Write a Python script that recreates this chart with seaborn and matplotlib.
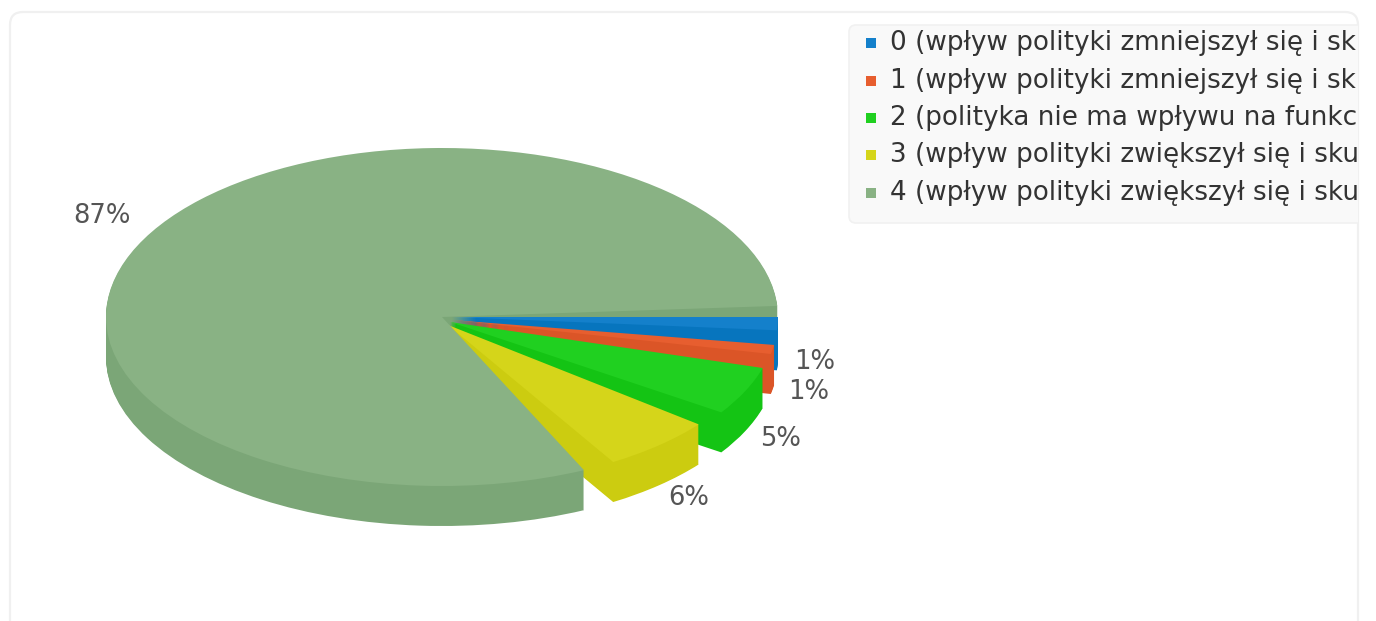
import matplotlib
matplotlib.use("Agg")
import matplotlib.pyplot as plt
import seaborn as sns
from matplotlib.patches import FancyBboxPatch

# legend text as it is visible, the card cuts it off on the right
legend_text = [
    "0 (wpływ polityki zmniejszył się i sk",
    "1 (wpływ polityki zmniejszył się i sk",
    "2 (polityka nie ma wpływu na funkc",
    "3 (wpływ polityki zwiększył się i sku",
    "4 (wpływ polityki zwiększył się i sku",
]
pct_labels = ["1%", "1%", "5%", "6%", "87%"]
shares = [1.3, 0.9, 4.8, 5.7, 80.9]

top_colors = ["#1480cb", "#e75e2f", "#20d020", "#d5d51a", "#89b284"]
side_colors = ["#0775be", "#db5527", "#14c414", "#cccc10", "#7ba677"]

# where each slice starts (degrees clockwise from east), apex and radii in pixels
start_deg = [0, 8.8, 16.4, 38.4, 65]
apex_px = [(452, 317), (452, 320), (450, 322), (448, 325), (442, 317)]
radii_px = [(326, 163), (326, 163), (326, 163), (320, 160), (336, 169)]
depth_px = 40

label_px = [(815, 362), (809, 392), (780, 439), (689, 498), (102, 216)]
legend_y = [43, 81, 118, 155, 193]

W, H = 1376, 621
sns.set_theme(style="white")
plt.rcParams["font.family"] = ["DejaVu Sans"]
palette = sns.color_palette(top_colors)

fig = plt.figure(figsize=(W / 100, H / 100), dpi=100, facecolor="white")

# page layer: card, legend box, texts, in pixel coordinates
page = fig.add_axes([0, 0, 1, 1], zorder=0)
page.set_axis_off()

card = FancyBboxPatch((10, 12), 1348, 700, boxstyle="round,pad=0,rounding_size=13",
                      fc="white", ec="#f0f0f0", lw=1.6)
page.add_patch(card)
legend_box = FancyBboxPatch((849, 25), 600, 198, boxstyle="round,pad=0,rounding_size=7",
                            fc="#f9f9f9", ec="#f1f1f1", lw=1.2)
page.add_patch(legend_box)
legend_box.set_clip_path(card)

sns.scatterplot(x=[871] * 5, y=legend_y, hue=legend_text, palette=palette, hue_order=legend_text,
                marker="s", s=50, linewidth=0, legend=False, ax=page)
for txt, y in zip(legend_text, legend_y):
    t = page.text(890, y, txt, fontsize=18.9, color="#333333", va="center", ha="left")
    t.set_clip_path(card)
for txt, (x, y) in zip(pct_labels, label_px):
    page.text(x, y, txt, fontsize=18.6, color="#555555", va="center", ha="center")
page.set_xlim(0, W)
page.set_ylim(H, 0)

# pie layer
pie_ax = fig.add_axes([0, 0, 1, 1], zorder=1)
pie_ax.patch.set_alpha(0)


def draw_slice(start, share, apex, radii, top, side):
    cx = apex[0] / radii[0]
    cy = -apex[1] / radii[1]
    step = 1 / radii[1]
    # side of the slice: copies of the wedge going down, then the top face
    for d in range(depth_px, 0, -1):
        pie_ax.pie([share / 100], colors=[side], startangle=-start, counterclock=False,
                   normalize=False, center=(cx, cy - d * step), frame=True,
                   wedgeprops={"linewidth": 0})
    pie_ax.pie([share / 100], colors=[top], startangle=-start, counterclock=False,
               normalize=False, center=(cx, cy), frame=True, wedgeprops={"linewidth": 0})


# back part of the big slice goes first, its front part goes over the yellow one
front_share = (180 - start_deg[4]) / 3.6
draw_slice(180, shares[4] - front_share, apex_px[4], radii_px[4], top_colors[4], side_colors[4])
for i in range(4):
    draw_slice(start_deg[i], shares[i], apex_px[i], radii_px[i], top_colors[i], side_colors[i])
draw_slice(start_deg[4], front_share, apex_px[4], radii_px[4], top_colors[4], side_colors[4])

pie_ax.set_aspect("auto")
pie_ax.set_axis_off()

# each slice has its own radius, so each one gets its own transform to pixels
idx = 0
groups = [4] + [0, 1, 2, 3] + [4]
for g in groups:
    rx, ry = radii_px[g]
    tr = matplotlib.transforms.Affine2D().scale(rx, -ry) + page.transData
    for _ in range(depth_px + 1):
        pie_ax.patches[idx].set_transform(tr)
        idx += 1

fig.savefig("out.png", dpi=100)
